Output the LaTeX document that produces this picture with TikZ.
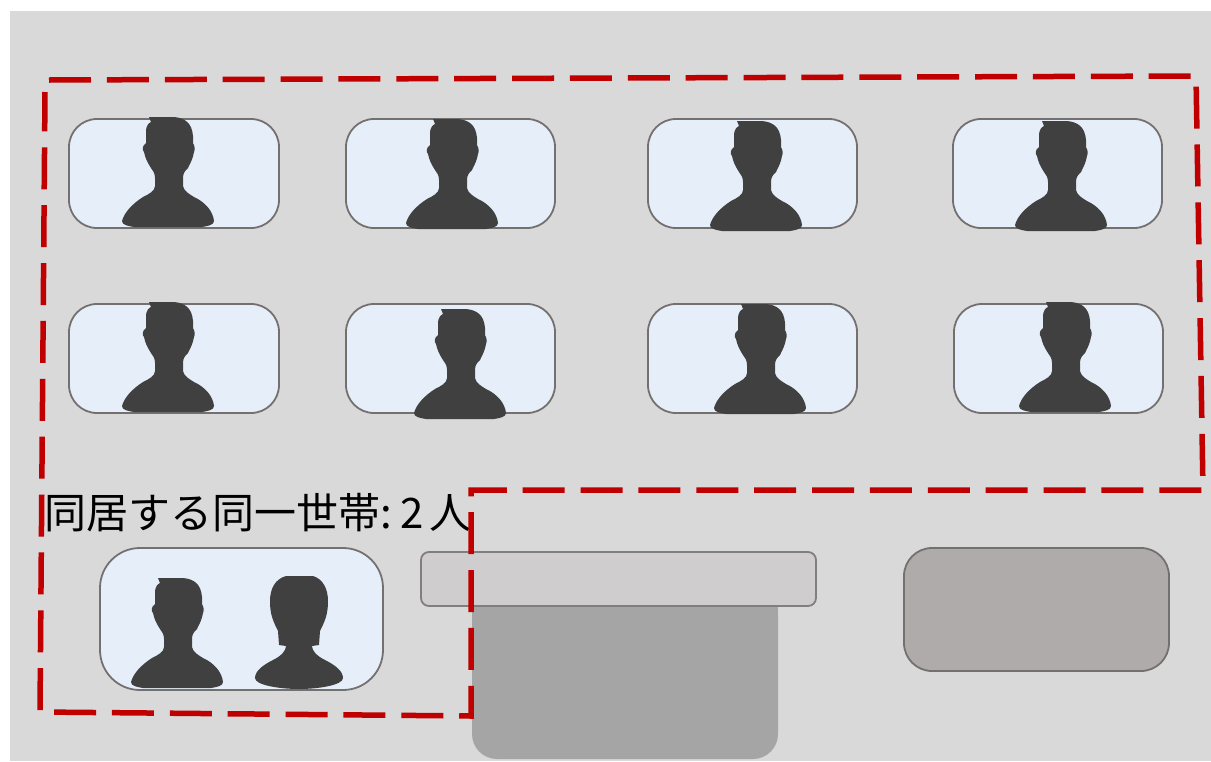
\documentclass[tikz,border=0pt]{standalone}
\usepackage{fontspec}
\newfontfamily\cjk{Noto Sans CJK JP}
\definecolor{roomgray}{HTML}{D9D9D9}
\definecolor{panelblue}{HTML}{E6EFF9}
\definecolor{edgegray}{HTML}{757070}
\definecolor{figgray}{HTML}{404040}
\definecolor{zonered}{HTML}{C00000}
\definecolor{desktop}{HTML}{CFCDCD}
\definecolor{deskbase}{HTML}{A5A5A5}
\definecolor{sofagray}{HTML}{AFABAB}
\tikzset{
  panel/.style={fill=panelblue,draw=edgegray,line width=1.8pt,rounded corners=28pt},
  zone/.style={draw=zonered,line width=5.5pt,dash pattern=on 42pt off 15.88pt},
  man/.pic={
    \fill[figgray] (-19,-111) -- (6,-111) .. controls (17,-110) and (24,-105) .. (25,-92) -- (25,-85)
      .. controls (27,-82) and (27,-78) .. (26,-76) .. controls (25,-70) and (23,-66) .. (20,-60)
      .. controls (17,-57) and (15,-55) .. (15,-50) -- (15,-42) .. controls (16,-37) and (21,-34) .. (26,-31)
      .. controls (37,-26) and (45,-17) .. (46,-7) .. controls (46,-3) and (40,-2) .. (34,-1) -- (-34,-1)
      .. controls (-40,-2) and (-46,-3) .. (-46,-7) .. controls (-44,-15) and (-36,-24) .. (-25,-31)
      .. controls (-19,-34) and (-13,-37) .. (-13,-42) -- (-13,-50) .. controls (-13,-55) and (-15,-57) .. (-17,-60)
      .. controls (-21,-66) and (-23,-71) .. (-24,-76) .. controls (-26,-78) and (-26,-82) .. (-22,-85)
      -- (-22,-96) .. controls (-22,-103) and (-19,-105) .. (-17,-106) -- cycle;
  },
  woman/.pic={
    \fill[figgray] (-13,-113) -- (14,-113) .. controls (24,-110) and (29,-100) .. (29,-88)
      .. controls (29,-80) and (28,-76) .. (27,-72) .. controls (25,-66) and (23,-62) .. (21,-58)
      -- (20,-44) -- (13,-43) .. controls (13,-38) and (18,-33) .. (26,-29)
      .. controls (36,-24) and (44,-18) .. (44,-11) .. controls (44,-4) and (20,0) .. (0,0)
      .. controls (-20,0) and (-44,-4) .. (-44,-11) .. controls (-44,-18) and (-36,-24) .. (-26,-29)
      .. controls (-18,-33) and (-13,-38) .. (-13,-43) -- (-20,-44) -- (-21,-58)
      .. controls (-23,-62) and (-25,-66) .. (-27,-72) .. controls (-28,-76) and (-29,-80) .. (-29,-88)
      .. controls (-29,-100) and (-24,-110) .. (-13,-113) -- cycle;
  }
}
\begin{document}
\begin{tikzpicture}[x=1pt,y=-1pt]
  \fill[white] (0,0) rectangle (1211,761);
  \fill[roomgray] (10,11) rectangle (1211,761);
  % upper rows
  \foreach \xa/\xb in {69/279,346/555,648/857,953/1162}
    \draw[panel] (\xa,119) rectangle (\xb,228);
  \foreach \xa/\xb in {69/279,346/555,648/857,954/1163}
    \draw[panel] (\xa,304) rectangle (\xb,413);
  \foreach \cx/\by in {168/228,452/230,756/232,1061/232,168/413,460/420,760/415,1065/413}
    \pic at (\cx,\by) {man};
  % shared household
  \draw[panel,rounded corners=40pt] (100,548) rectangle (383,690);
  \pic at (177,689) {man};
  \pic at (299,689) {woman};
  % desk and sofa
  \fill[deskbase,rounded corners=25pt] (472,590) -- (472,759) -- (778,759) -- (778,590) -- cycle;
  \fill[deskbase] (472,590) rectangle (778,620);
  \draw[fill=desktop,draw=edgegray!90,line width=1.8pt,rounded corners=8pt] (421,552) rectangle (816,606);
  \draw[panel,fill=sofagray,rounded corners=28pt] (904,548) rectangle (1169,671);
  \node[font=\cjk\fontsize{42}{42}\selectfont,anchor=west,inner sep=0pt] (lbl) at (44,513) {同居する同一世帯:\kern9pt 2\kern5pt 人};
  % dashed zone
  \draw[zone] (49,80) -- (1196,76) -- (1203,490) -- (471,490) -- (471,716) -- (40,712) -- (45,92);
\end{tikzpicture}
\end{document}
